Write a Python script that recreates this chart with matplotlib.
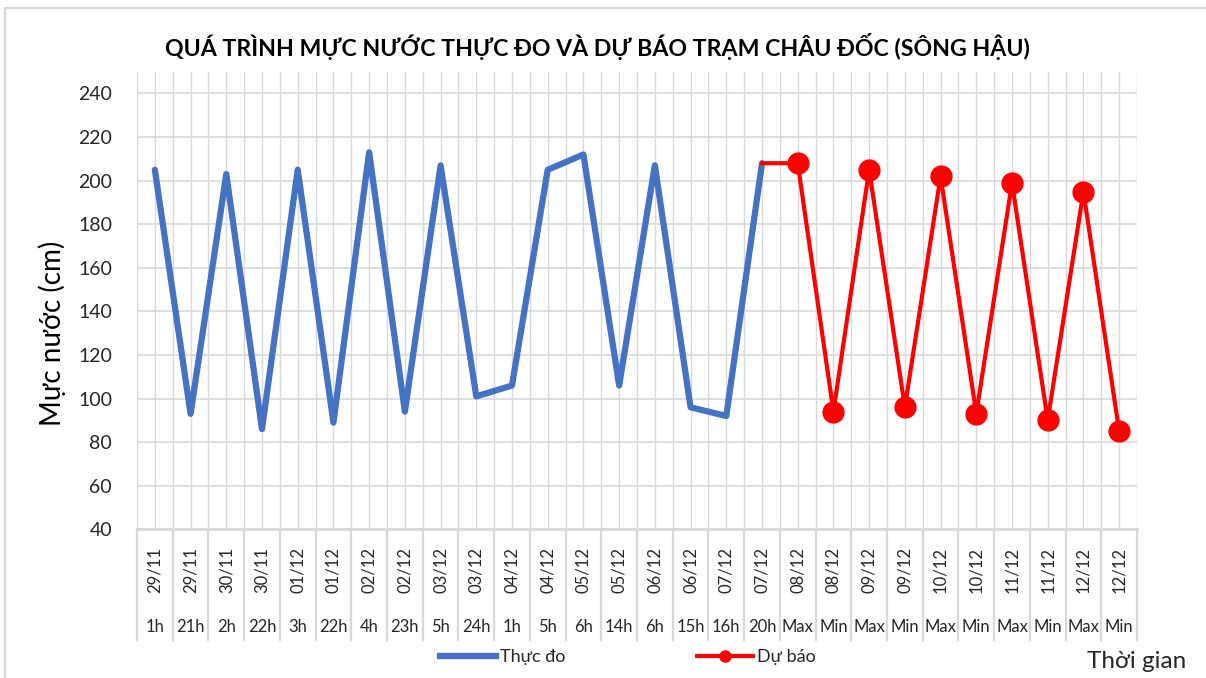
import matplotlib.pyplot as plt
from matplotlib.lines import Line2D
import matplotlib.transforms as mtransforms

plt.rcParams['font.family'] = ['Lato', 'Noto Sans', 'DejaVu Sans']

# Data
dates = ['29/11', '29/11', '30/11', '30/11', '01/12', '01/12', '02/12', '02/12',
         '03/12', '03/12', '04/12', '04/12', '05/12', '05/12', '06/12', '06/12',
         '07/12', '07/12', '08/12', '08/12', '09/12', '09/12', '10/12', '10/12',
         '11/12', '11/12', '12/12', '12/12']
hours = ['1h', '21h', '2h', '22h', '3h', '22h', '4h', '23h', '5h', '24h', '1h', '5h',
         '6h', '14h', '6h', '15h', '16h', '20h', 'Max', 'Min', 'Max', 'Min', 'Max',
         'Min', 'Max', 'Min', 'Max', 'Min']
thuc_do = [205, 93, 203, 86, 205, 89, 213, 94, 207, 101, 106, 205, 212, 106,
           207, 96, 92, 208]
du_bao = [208, 208, 94, 205, 96, 202, 93, 199, 90, 195, 85]

n = len(dates)
x_obs = list(range(len(thuc_do)))
x_fc = list(range(len(thuc_do) - 1, len(thuc_do) - 1 + len(du_bao)))

blue = '#4472C4'
red = '#FF0000'
grid_c = '#D9D9D9'
txt_c = '#262626'

fig = plt.figure(figsize=(12.06, 6.78), dpi=100)
ax = fig.add_axes([137 / 1206, 1 - 529.3 / 678, 1000 / 1206, (529.3 - 71.7) / 678])

ax.plot(x_obs, thuc_do, color=blue, linewidth=4.5, solid_joinstyle='round',
        solid_capstyle='round', zorder=3)
ax.plot(x_fc, du_bao, color=red, linewidth=3, marker='o', markersize=15,
        markevery=list(range(1, len(du_bao))), zorder=4)

ax.set_xlim(-0.5, n - 0.5)
ax.set_ylim(40, 250)
ax.set_yticks(range(40, 241, 20))
ax.tick_params(axis='y', length=0, pad=18, labelsize=14, labelcolor=txt_c)

# gridlines: horizontal per tick, vertical at every half category
for v in range(40, 241, 20):
    ax.axhline(v, color=grid_c, linewidth=1.2, zorder=1)
for i in range(2 * n + 1):
    ax.axvline(-0.5 + i * 0.5, color=grid_c, linewidth=1.0, zorder=1)

for s in ax.spines.values():
    s.set_visible(False)
ax.set_xticks([])

# multi-level category labels
trans = mtransforms.blended_transform_factory(ax.transData, ax.transAxes)
label_h = (640 - 529.3) / (529.3 - 71.7)
ax.plot([-0.5, n - 0.5], [0, 0], transform=trans, color=grid_c, linewidth=2,
        clip_on=False, zorder=2)
for i in range(n + 1):
    ax.plot([i - 0.5, i - 0.5], [0, -label_h], transform=trans, color=grid_c,
            linewidth=1.6, clip_on=False)
for i in range(n):
    ax.text(i, -(570 - 529.3) / 457.6, dates[i], transform=trans, rotation=90,
            ha='center', va='center', fontsize=12, color=txt_c)
    ax.text(i, -(627 - 529.3) / 457.6, hours[i], transform=trans,
            ha='center', va='center', fontsize=12, color=txt_c)

fig.text(52 / 1206, 1 - 333 / 678, 'Mực nước (cm)', rotation=90,
         ha='center', va='center', fontsize=20, color='black')

fig.text(597 / 1206, 1 - 46 / 678,
         'QUÁ TRÌNH MỰC NƯỚC THỰC ĐO VÀ DỰ BÁO TRẠM CHÂU ĐỐC (SÔNG HẬU)',
         ha='center', va='center', fontsize=16.7, fontweight='bold', color='black')

fig.text(1186 / 1206, 1 - 661 / 678, 'Thời gian', ha='right', va='center',
         fontsize=17.5, color=txt_c)

handles = [Line2D([], [], color=blue, linewidth=4.5),
           Line2D([], [], color=red, linewidth=3, marker='o', markersize=8)]
fig.legend(handles, ['Thực đo', 'Dự báo'], loc='center',
           bbox_to_anchor=(628 / 1206, 1 - 657 / 678), ncol=2, frameon=False,
           fontsize=13, handlelength=3.1, handletextpad=0.2, columnspacing=7.3,
           labelcolor=txt_c)

# outer chart border
fig.add_artist(Line2D([5 / 1206, 5 / 1206], [0, 1 - 8 / 678], color=grid_c,
                      linewidth=1.5, transform=fig.transFigure))
fig.add_artist(Line2D([5 / 1206, 1], [1 - 8 / 678, 1 - 8 / 678], color=grid_c,
                      linewidth=1.5, transform=fig.transFigure))

fig.savefig('out.png', dpi=100)
